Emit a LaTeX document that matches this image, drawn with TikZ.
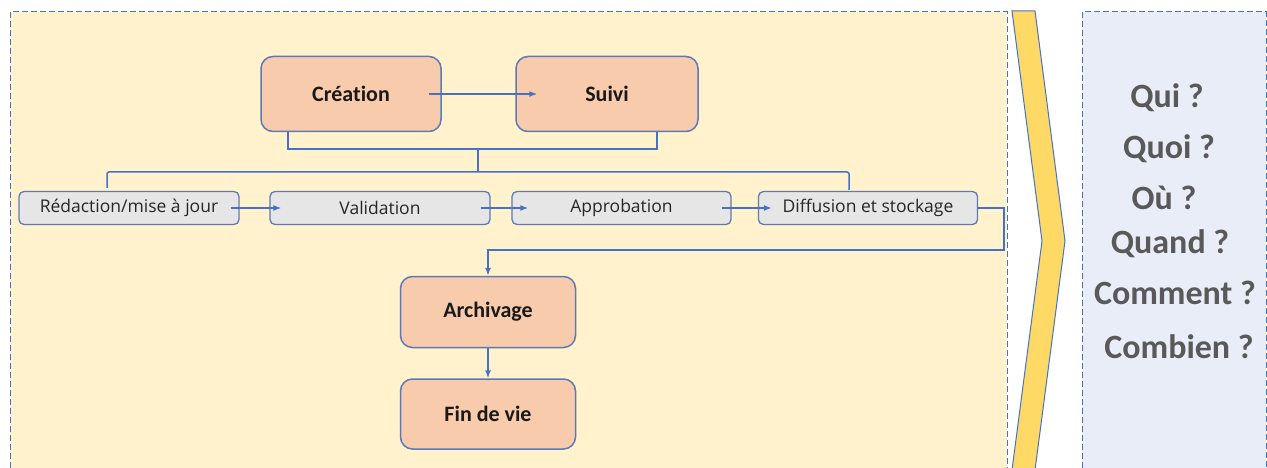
\documentclass[tikz,border=0pt]{standalone}
\usepackage{fontspec}
\setmainfont{Carlito}[Ligatures=NoCommon]
\newfontfamily\osans{Open Sans}
\usetikzlibrary{arrows.meta}
\definecolor{panelY}{HTML}{FFF2CC}
\definecolor{panelB}{HTML}{E9EDF7}
\definecolor{chev}{HTML}{FFD966}
\definecolor{lnblue}{HTML}{4472C4}
\definecolor{boxO}{HTML}{F8CBAD}
\definecolor{boxG}{HTML}{E7E6E6}
\definecolor{edge}{HTML}{5E7AB5}
\definecolor{qgray}{HTML}{595959}
\tikzset{
  bigbox/.style={draw=edge, line width=1.5pt, fill=boxO, rounded corners=12pt,
    minimum width=180pt, minimum height=75pt, inner sep=0pt,
    font=\fontsize{22}{26}\selectfont\bfseries, text=black!90},
  smallbox/.style={draw=edge, line width=1.3pt, fill=boxG, rounded corners=5pt,
    minimum width=220pt, minimum height=33pt, inner sep=0pt,
    font=\osans\fontsize{17.5}{20}\selectfont, text=black!85},
  conn/.style={draw=lnblue, line width=1.5pt},
  arr/.style={conn, -{Latex[length=8pt,width=6pt]}},
  panel/.style={draw=lnblue, line width=1pt, dash pattern=on 6pt off 3pt},
  question/.style={anchor=base, text=qgray, inner sep=0pt,
    font=\fontsize{34}{40}\selectfont\bfseries}
}
\begin{document}
\begin{tikzpicture}[x=1pt,y=-1pt]
\useasboundingbox (0,0) rectangle (1267,468);
% panels
\fill[panelY] (10,12) rectangle (1007,468);
\draw[panel] (10,468) -- (10,12) -- (1007,12) -- (1007,468);
\fill[panelB] (1082,12) rectangle (1266,468);
\draw[panel] (1082,468) -- (1082,12) -- (1266,12) -- (1266,468);
% chevron
\draw[draw=lnblue, line width=1pt, fill=chev] (1012,11) -- (1035,11) -- (1065,241) -- (1035,470) -- (1012,470) -- (1042,241) -- cycle;
% questions
\node[question] (q1) at (1167,108) {Qui ?};
\node[question] (q2) at (1169,159) {Quoi ?};
\node[question] (q3) at (1164,209) {Où ?};
\node[question] (q4) at (1170,253) {Quand ?};
\node[question] (q5) at (1175,304) {Comment ?};
\node[question] (q6) at (1179,358) {Combien ?};
% main boxes
\node[bigbox] (cre) at (351,94) {Création};
\node[bigbox, minimum width=182pt] (sui) at (607,94) {Suivi};
\node[smallbox] (red) at (129,208) {Rédaction/mise à jour};
\node[smallbox] (val) at (380,208) {Validation};
\node[smallbox, minimum width=219pt] (app) at (621.5,208) {Approbation};
\node[smallbox, minimum width=219pt] (dif) at (868,208) {Diffusion et stockage};
\node[bigbox, minimum width=175pt, minimum height=71pt] (arc) at (488,312) {Archivage};
\node[bigbox, minimum width=175pt, minimum height=70pt] (fin) at (488,414) {Fin de vie};
% connectors
\draw[arr] ([xshift=-13pt]cre.east) -- ([xshift=22pt]sui.west);
\draw[conn] ([xshift=-63pt]cre.south) -- ++(0,17) coordinate (b1) -| ([xshift=50pt]sui.south);
\coordinate (bm) at (478,148);
\coordinate (bl) at (478,172);
\draw[conn] (bm) -- (bl);
\draw[conn, rounded corners=2pt] ([xshift=-22pt,yshift=3pt]red.north) |- (bl) -| ([xshift=-19pt,yshift=1pt]dif.north);
\draw[arr] ([xshift=-9pt]red.east) -- ([xshift=12pt]val.west);
\draw[arr] ([xshift=-10pt]val.east) -- ([xshift=17pt]app.west);
\draw[arr] ([xshift=-10pt]app.east) -- ([xshift=14pt]dif.west);
\coordinate (t1) at (1004,250);
\draw[arr] (dif.east) -| (t1) -- (t1 -| arc.north) -- (arc.north);
\draw[arr] (arc.south) -- (fin.north);
\end{tikzpicture}
\end{document}
